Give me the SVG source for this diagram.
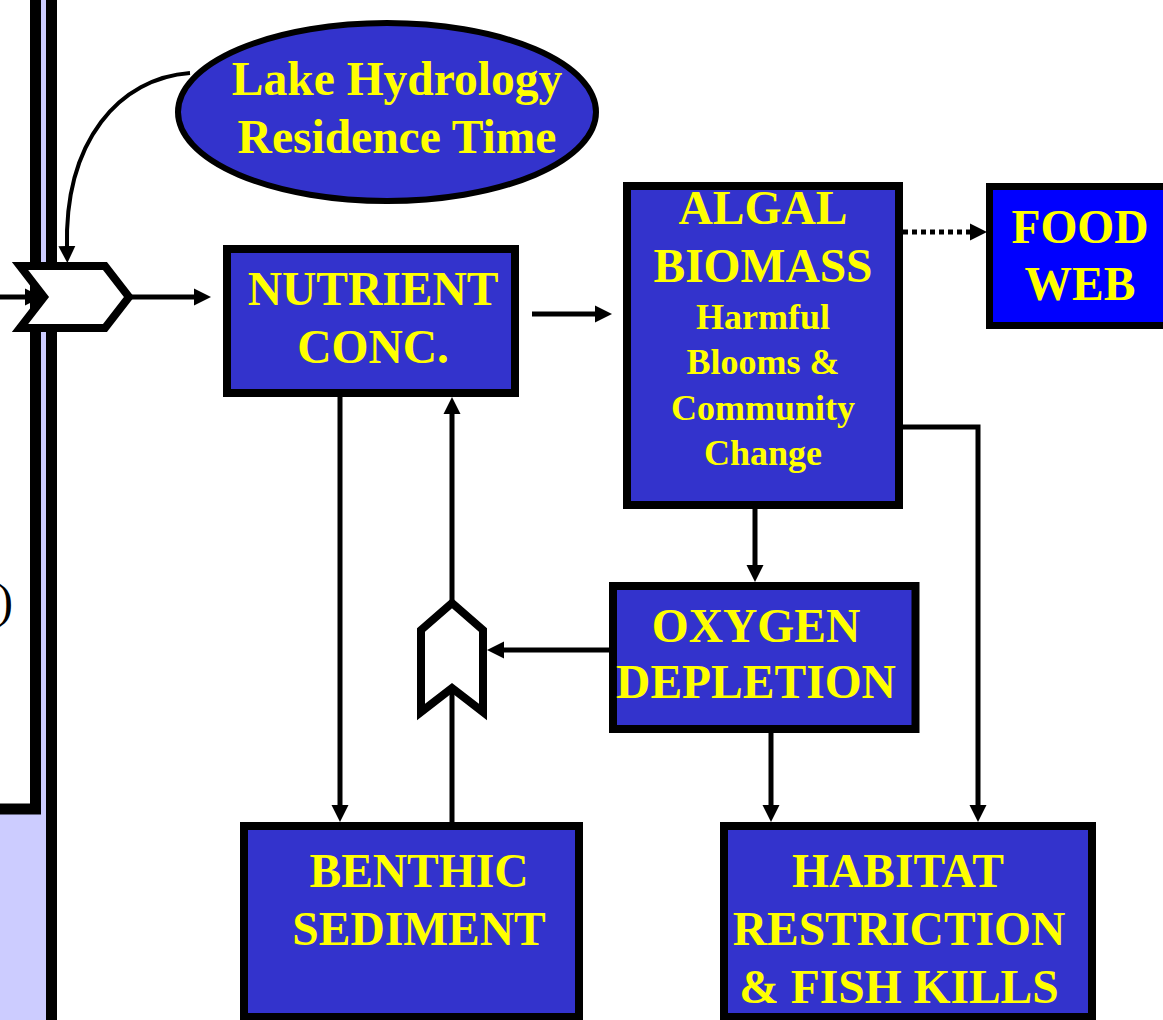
<svg xmlns="http://www.w3.org/2000/svg" width="1163" height="1020" viewBox="0 0 1163 1020">
<defs>
<marker id="ah" viewBox="0 0 18 18" refX="3" refY="9" markerWidth="18" markerHeight="18" markerUnits="userSpaceOnUse" orient="auto">
<path d="M0,0.5 L17,9 L0,17.5 z" fill="#000"/>
</marker>
<style>
.box{fill:#3333CC;stroke:#000;stroke-width:8}
.food{fill:#0000FF;stroke:#000;stroke-width:7}
.t{font-family:"Liberation Serif","Times New Roman",serif;font-weight:bold;fill:#FFFF00;text-anchor:middle}
.big{font-size:47.5px}
.small{font-size:36px}
.c{fill:none;stroke:#000;stroke-width:5}
.chev{fill:#fff;stroke:#000;stroke-width:8;stroke-linejoin:miter}
</style>
</defs>
<rect x="0" y="0" width="1163" height="1020" fill="#fff"/>
<g id="left-panel">
<rect x="-20" y="-20" width="66" height="1060" fill="#CCCCFF"/>
<rect x="-100" y="-100" width="135.5" height="909" fill="#fff" stroke="#000" stroke-width="11"/>
<line x1="51.5" y1="0" x2="51.5" y2="1020" stroke="#000" stroke-width="11"/>
<text x="-3" y="617" font-family="Liberation Serif, serif" font-size="48" fill="#000">)</text>
</g>
<g id="connectors">
<line class="c" x1="0" y1="297" x2="28" y2="297" marker-end="url(#ah)"/>
<path class="c" style="stroke-width:4" d="M190,73 C120,78 64,140 67,249" marker-end="url(#ah)"/>
<line class="c" x1="130" y1="297" x2="197" y2="297" marker-end="url(#ah)"/>
<line class="c" x1="532" y1="314" x2="598" y2="314" marker-end="url(#ah)"/>
<line class="c" x1="903" y1="232" x2="973" y2="232" stroke-dasharray="5 4" marker-end="url(#ah)"/>
<polyline class="c" points="899,427 978,427 978,808" marker-end="url(#ah)"/>
<line class="c" x1="755" y1="509" x2="755" y2="568" marker-end="url(#ah)"/>
<line class="c" x1="771" y1="733" x2="771" y2="808" marker-end="url(#ah)"/>
<line class="c" x1="609" y1="650" x2="501" y2="650" marker-end="url(#ah)"/>
<line class="c" x1="452" y1="603" x2="452" y2="411" marker-end="url(#ah)"/>
<line class="c" x1="452" y1="822" x2="452" y2="688"/>
<line class="c" x1="340" y1="397" x2="340" y2="808" marker-end="url(#ah)"/>
</g>
<g id="junction-1">
<polygon class="chev" points="20,266 105,266 129,297 105,328 20,328 44,297"/>
</g>
<g id="junction-2">
<polygon class="chev" points="452,603 483,630 483,712 452,688 421,712 421,630"/>
</g>
<g id="lake-hydrology">
<ellipse cx="387" cy="112" rx="209" ry="89" fill="#3333CC" stroke="#000" stroke-width="6"/>
<text class="t big" x="397" y="95">Lake Hydrology</text>
<text class="t big" x="397" y="153">Residence Time</text>
</g>
<g id="nutrient-conc">
<rect class="box" x="227" y="249" width="288" height="144"/>
<text class="t big" x="373" y="305">NUTRIENT</text>
<text class="t big" x="373" y="363">CONC.</text>
</g>
<g id="algal-biomass">
<rect class="box" x="627" y="186" width="272" height="319"/>
<text class="t big" x="763" y="224">ALGAL</text>
<text class="t big" x="763" y="282">BIOMASS</text>
<text class="t small" x="763" y="329">Harmful</text>
<text class="t small" x="763" y="374">Blooms &amp;</text>
<text class="t small" x="763" y="420">Community</text>
<text class="t small" x="763" y="465">Change</text>
</g>
<g id="food-web">
<rect class="food" x="989.5" y="186.5" width="200" height="139"/>
<text class="t big" x="1080" y="243">FOOD</text>
<text class="t big" x="1080" y="300">WEB</text>
</g>
<g id="oxygen-depletion">
<rect class="box" x="613" y="586" width="302.5" height="143"/>
<text class="t big" x="756" y="642">OXYGEN</text>
<text class="t big" x="756" y="698">DEPLETION</text>
</g>
<g id="benthic-sediment">
<rect class="box" x="244" y="826" width="335" height="191"/>
<text class="t big" x="419" y="887">BENTHIC</text>
<text class="t big" x="419" y="945">SEDIMENT</text>
</g>
<g id="habitat-restriction">
<rect class="box" x="724" y="826" width="368" height="191"/>
<text class="t big" x="898" y="887">HABITAT</text>
<text class="t big" x="899" y="945">RESTRICTION</text>
<text class="t big" x="899" y="1003">&amp; FISH KILLS</text>
</g>
</svg>
